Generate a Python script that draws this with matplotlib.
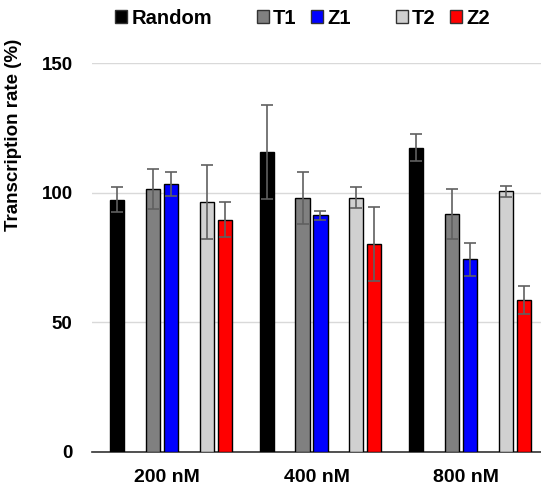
import matplotlib
matplotlib.use('Agg')
import matplotlib.pyplot as plt
from matplotlib.patches import Patch
import numpy as np

plt.rcParams['font.family'] = ['Liberation Sans', 'DejaVu Sans']
plt.rcParams['font.weight'] = 'bold'

concentrations = ['200 nM', '400 nM', '800 nM']
series = ['Random', 'T1', 'Z1', 'T2', 'Z2']
colors = ['#000000', '#808080', '#0000ff', '#d0d0d0', '#ff0000']
slots = [0, 2, 3, 5, 6]  # position within group (1 and 4 are gaps)

random_vals = [97.4, 115.8, 117.4]
t1_vals = [101.5, 98.1, 91.9]
z1_vals = [103.5, 91.3, 74.4]
t2_vals = [96.4, 98.1, 100.5]
z2_vals = [89.6, 80.3, 58.6]

random_err = [5.0, 18.2, 5.2]
t1_err = [7.8, 10.0, 9.6]
z1_err = [4.6, 1.8, 6.4]
t2_err = [14.2, 4.1, 2.1]
z2_err = [6.7, 14.4, 5.4]

values = [random_vals, t1_vals, z1_vals, t2_vals, z2_vals]
errors = [random_err, t1_err, z1_err, t2_err, z2_err]

fig = plt.figure(figsize=(5.41, 4.86), dpi=100)
ax = fig.add_axes([0.170, 0.070, 0.830, 0.800])

x = np.arange(len(concentrations))
bar_w = 0.094
for vals, errs, col, slot in zip(values, errors, colors, slots):
    pos = x - 0.5 + (25 + 18 * slot) / 150
    ax.bar(pos, vals, width=bar_w, color=col, edgecolor='black', linewidth=1.0, zorder=3)
    ax.errorbar(pos, vals, yerr=errs, fmt='none', ecolor='#606060',
                elinewidth=1.2, capsize=4, capthick=1.2, zorder=4)

ax.set_xlim(-0.5, 2.5)
ax.set_ylim(0, 150)
ax.set_yticks([0, 50, 100, 150])
ax.set_xticks(x)
ax.set_xticklabels(concentrations, fontsize=14, fontweight='bold')
ax.tick_params(axis='y', labelsize=13.5, length=0, pad=14)
ax.tick_params(axis='x', length=0, pad=12)
ax.grid(axis='y', color='#d9d9d9', linewidth=1, zorder=0)
for s in ['left', 'right', 'top']:
    ax.spines[s].set_visible(False)
ax.spines['bottom'].set_color('#333333')
ax.spines['bottom'].set_linewidth(1.2)
ax.set_ylabel('Transcription rate (%)', fontsize=13.5, fontweight='bold')
ax.yaxis.set_label_coords(-0.156, 0.815)

blank = Patch(facecolor='none', edgecolor='none')
handles = [Patch(facecolor=colors[0], edgecolor='#333333'), blank,
           Patch(facecolor=colors[1], edgecolor='#333333'),
           Patch(facecolor=colors[2], edgecolor='#333333'), blank,
           Patch(facecolor=colors[3], edgecolor='#333333'),
           Patch(facecolor=colors[4], edgecolor='#333333')]
labels = ['Random', '', 'T1', 'Z1', '', 'T2', 'Z2']
fig.legend(handles, labels, ncol=7, loc='center', bbox_to_anchor=(0.559, 0.962),
           frameon=False, handlelength=0.6, handleheight=0.6,
           handletextpad=0.2, columnspacing=0.72, prop={'weight': 'bold', 'size': 14.5})

fig.savefig('out.png', dpi=100)
